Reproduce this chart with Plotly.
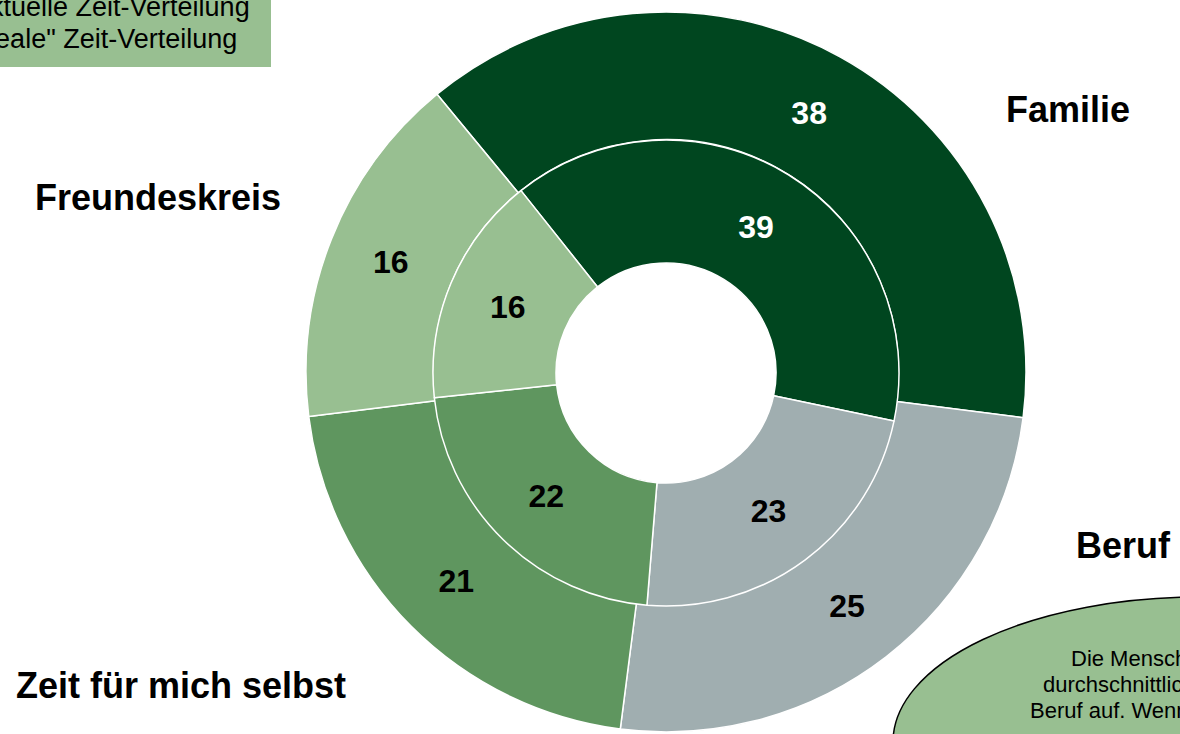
import plotly.graph_objects as go

# ---- data ----
categories = ["Familie", "Beruf", "Zeit für mich selbst", "Freundeskreis"]
inner_values = [39, 23, 22, 16]   # Aktuelle Zeit-Verteilung (inner ring)
outer_values = [38, 25, 21, 16]   # "Ideale" Zeit-Verteilung (outer ring)
slice_colors = ["#00461F", "#A0AEB0", "#5F965F", "#98BF91"]
value_text_colors = ["white", "black", "black", "black"]
legend_lines = ["Aktuelle Zeit-Verteilung", "\"Ideale\" Zeit-Verteilung"]
note_lines = ["Die Menschen", "durchschnittlich", "Beruf auf. Wenn"]

W, H = 1180, 734
FONT = "Liberation Sans, Arial, sans-serif"


def px_x(x):
    return x / W


def px_y(y):
    return 1 - y / H


cx, cy = 666, 373
r_outer, r_mid, r_hole = 361, 233, 110

fig = go.Figure()

fig.add_trace(go.Pie(
    labels=categories, values=outer_values, sort=False, direction="clockwise",
    rotation=-39.5, hole=r_mid / r_outer,
    domain=dict(x=[px_x(cx - r_outer), px_x(cx + r_outer)],
                y=[px_y(cy + r_outer - 2), px_y(cy - r_outer)]),
    marker=dict(colors=slice_colors, line=dict(color="white", width=1.5)),
    textinfo="value", textposition="inside", insidetextorientation="horizontal",
    textfont=dict(family=FONT, size=32, color=value_text_colors, weight="bold"),
    showlegend=False, hoverinfo="label+value",
))

fig.add_trace(go.Pie(
    labels=categories, values=inner_values, sort=False, direction="clockwise",
    rotation=-38.5, hole=r_hole / r_mid,
    domain=dict(x=[px_x(cx - r_mid), px_x(cx + r_mid)],
                y=[px_y(cy + r_mid), px_y(cy - r_mid)]),
    marker=dict(colors=slice_colors, line=dict(color="white", width=1.5)),
    textinfo="value", textposition="inside", insidetextorientation="horizontal",
    textfont=dict(family=FONT, size=32, color=value_text_colors, weight="bold"),
    showlegend=False, hoverinfo="label+value",
))

# category labels
cat_pos = {
    "Familie": (1068, 108),
    "Beruf": (1123, 544),
    "Zeit für mich selbst": (181, 684),
    "Freundeskreis": (158, 196),
}
annotations = []
for c in categories:
    x, y = cat_pos[c]
    annotations.append(dict(
        text=c, x=px_x(x), y=px_y(y + 1), xref="paper", yref="paper",
        xanchor="center", yanchor="middle", showarrow=False,
        font=dict(family=FONT, size=36, color="black", weight="bold"),
    ))

# legend-like box text (top-left, partly cropped)
for line, (xe, yc) in zip(legend_lines, [(252, 7), (239, 39)]):
    annotations.append(dict(
        text=line, x=px_x(xe), y=px_y(yc), xref="paper", yref="paper",
        xanchor="right", yanchor="middle", showarrow=False,
        font=dict(family=FONT, size=27, color="black"),
    ))

# note text inside ellipse (bottom-right, partly cropped)
for line, (xs, yc) in zip(note_lines, [(1069, 658), (1041, 684), (1028, 710)]):
    annotations.append(dict(
        text=line, x=px_x(xs), y=px_y(yc), xref="paper", yref="paper",
        xanchor="left", yanchor="middle", showarrow=False,
        font=dict(family=FONT, size=22, color="black"),
    ))

shapes = [
    dict(type="rect", xref="paper", yref="paper",
         x0=px_x(-20), x1=px_x(271), y0=px_y(67), y1=px_y(-20),
         fillcolor="#98BF91", line=dict(width=0), layer="below"),
    dict(type="circle", xref="paper", yref="paper",
         x0=px_x(1200 - 307), x1=px_x(1200 + 307),
         y0=px_y(742 + 145), y1=px_y(742 - 145),
         fillcolor="#98BF91", line=dict(color="black", width=1.5), layer="below"),
]

fig.update_layout(
    width=W, height=H, autosize=False,
    margin=dict(l=0, r=0, t=0, b=0),
    paper_bgcolor="white", plot_bgcolor="white",
    showlegend=False,
    annotations=annotations, shapes=shapes,
    font=dict(family=FONT),
)

fig.write_html(
    "out.html",
    config={"displayModeBar": False},
    post_script="document.body.style.margin='0px';document.body.style.overflow='hidden';",
)
